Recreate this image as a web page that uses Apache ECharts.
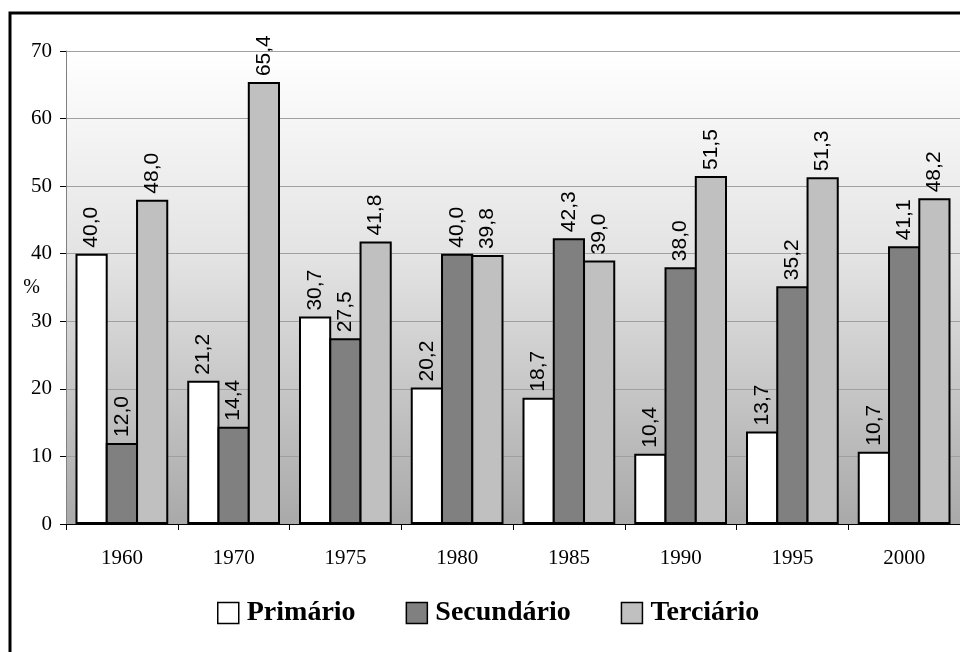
<!DOCTYPE html>
<html>
<head>
<meta charset="utf-8">
<script src="https://cdn.jsdelivr.net/npm/echarts@6/dist/echarts.min.js"></script>
<style>
  html, body { margin: 0; padding: 0; background: #fff; }
  #chart { width: 960px; height: 652px; }
</style>
</head>
<body>
<div id="chart"></div>
<script>
const years = ["1960", "1970", "1975", "1980", "1985", "1990", "1995", "2000"];
const primario = [40.0, 21.2, 30.7, 20.2, 18.7, 10.4, 13.7, 10.7];
const secundario = [12.0, 14.4, 27.5, 40.0, 42.3, 38.0, 35.2, 41.1];
const terciario = [48.0, 65.4, 41.8, 39.8, 39.0, 51.5, 51.3, 48.2];

const serif = "'Liberation Serif', 'DejaVu Serif', serif";
const sans = "'Liberation Sans', Arial, sans-serif";

const barLabel = {
  show: true,
  position: "top",
  rotate: 90,
  align: "left",
  verticalAlign: "middle",
  distance: 6,
  color: "#000",
  fontFamily: sans,
  fontSize: 21,
  formatter: (p) => p.value.toFixed(1).replace(".", ","),
};

const makeSeries = (name, data, color) => ({
  name: name,
  type: "bar",
  data: data,
  barGap: "-6%",
  barCategoryGap: "17%",
  itemStyle: { color: color, borderColor: "#000", borderWidth: 2 },
  label: barLabel,
});

const myChart = echarts.init(document.getElementById("chart"));
const option = {
  animation: false,
  backgroundColor: "#fff",
  textStyle: { fontFamily: serif },
  graphic: [
    {
      type: "rect",
      shape: { x: 10, y: 13, width: 1000, height: 700 },
      style: { fill: null, stroke: "#000", lineWidth: 3 },
      z: 100,
    },
  ],
  grid: {
    left: 66,
    right: 0,
    top: 51,
    bottom: 128,
    show: true,
    borderWidth: 0,
    backgroundColor: new echarts.graphic.LinearGradient(0, 0, 0, 1, [
      { offset: 0, color: "#ffffff" },
      { offset: 0.45, color: "#e2e2e2" },
      { offset: 1, color: "#a9a9a9" },
    ]),
  },
  legend: {
    top: 594,
    left: 212,
    itemWidth: 21,
    itemHeight: 21,
    itemGap: 50,
    icon: "rect",
    textStyle: { fontFamily: serif, fontSize: 28, fontWeight: "bold", color: "#000", padding: [0, 0, 0, 3] },
    itemStyle: { borderColor: "#000", borderWidth: 1.5 },
    data: ["Primário", "Secundário", "Terciário"],
  },
  xAxis: {
    type: "category",
    data: years,
    axisLine: { lineStyle: { color: "#000", width: 1 } },
    axisTick: { show: true, length: 6, lineStyle: { color: "#000" } },
    axisLabel: { color: "#000", fontFamily: serif, fontSize: 21, margin: 24 },
  },
  yAxis: {
    type: "value",
    min: 0,
    max: 70,
    interval: 10,
    name: "%",
    nameLocation: "middle",
    nameRotate: 0,
    nameGap: 26,
    nameMoveOverlap: false,
    nameTextStyle: { color: "#000", fontFamily: serif, fontSize: 20 },
    axisLine: { show: true, lineStyle: { color: "#808080", width: 1 } },
    axisTick: { show: true, length: 6, lineStyle: { color: "#000" } },
    axisLabel: { color: "#000", fontFamily: serif, fontSize: 21, margin: 14 },
    splitLine: { lineStyle: { color: "#a0a0a0", width: 1 } },
  },
  series: [
    makeSeries("Primário", primario, "#ffffff"),
    makeSeries("Secundário", secundario, "#808080"),
    makeSeries("Terciário", terciario, "#c0c0c0"),
  ],
};
myChart.setOption(option);
</script>
</body>
</html>
